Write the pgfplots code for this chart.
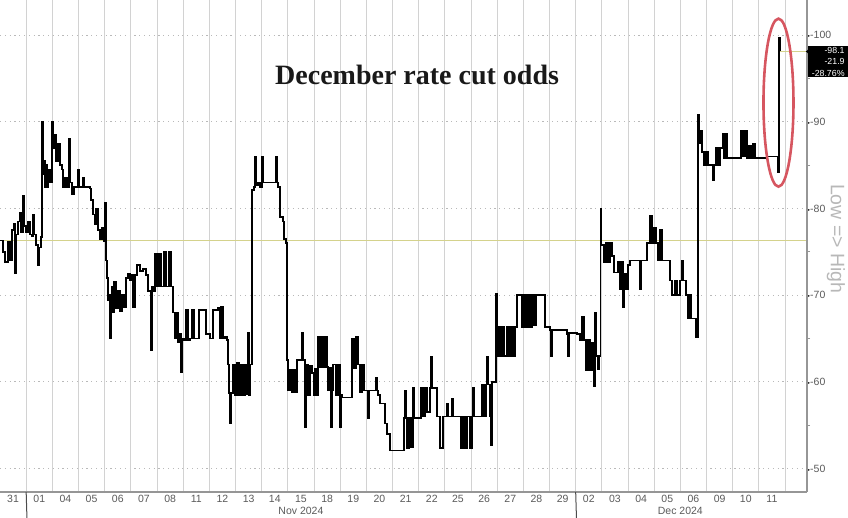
\documentclass[border=0pt]{standalone}
\usepackage{pgfplots}
\pgfplotsset{compat=1.18}
\usepackage{pgfplotstable}
\usepackage{fontspec}
\setmainfont{Liberation Sans}
\newfontfamily\titlefont{Liberation Serif}
\newfontfamily\symfont{DejaVu Sans}

\definecolor{gridgray}{RGB}{210,210,210}
\definecolor{axisgray}{RGB}{150,150,150}
\definecolor{ticktext}{RGB}{90,90,90}
\definecolor{refline}{RGB}{212,210,140}
\definecolor{ovalred}{RGB}{214,86,96}

% t = position along the time axis (one trading day = 26.17 units, day 0 = Oct 31 at 13)
\pgfplotstableread{
t v
0 76.3
3 75
5 73.8
8 76.2
10 74
12 77.5
14 78.2
15 72.5
16 77
18 78.5
20 79.5
21 77.3
23 81.5
24 78
26 77.2
28 78.5
30 77
32 76.8
33 79.3
34 77
36 75.8
38 73.5
39 75.5
41 76.7
42 90
43 84
44 85.5
45 82.5
46 85
47 82.5
48 84.5
50 83
52 90
53 87
54 88.5
56 85.5
58 87.5
60 85
62 84.5
63 82.5
65 83.5
67 82.5
69 88
70 83
72 81.6
74 82.5
78 84.5
79 82.5
83 83.5
84 82.5
88 82.5
90 82.3
91 81
93 79.3
95 78.2
96 80
98 77.5
100 76.5
102 77.8
104 76.2
105 80.6
106 74
107 72
108 69.4
109 70
110 65
111 68.5
112 71
113 68
114 71.5
116 68.5
118 70.5
120 68.2
122 70
124 68.6
126 72
128 72.5
130 71.7
132 72.3
133 68.6
135 72.3
137 73.5
140 72.8
143 73
146 72.3
148 70.5
151 63.7
152 71
154 70.5
155 74.8
157 71
159 74.8
161 71
162 71
164 75
166 71
169 75
171 71
173 68
175 65
176 68
178 64.6
180 65.5
181 61.1
182 65
184 64.8
186 68.3
188 64.8
190 65
192 68.3
194 65
197 65
199 68.3
204 68.3
206 65.5
210 65
213 68.3
218 68.5
220 65
221 68.7
223 65
225 65.2
227 64.8
228 62
229 58.7
230 55.2
231 58.7
233 62
235 58.5
237 62.2
239 58.5
241 62
243 58.5
245 62
247 58.6
248 65.7
249 58.5
250 62
252 82.1
254 82.5
255 86
256 82.7
258 83
260 82.4
262 86
263 83
266 83
272 83
276 86
277 83
278 82.5
280 79
283 78.5
284 76.5
286 76
287 62.5
288 59
290 61.4
292 58.8
294 61.4
296 58.8
297 62.5
300 62.5
302 65.6
303 62.5
305 54.8
306 62
308 58.5
310 61.8
312 61
314 58.4
315 61.5
317 58.5
318 65.2
320 61.7
322 65.2
324 61.7
326 65.2
327 61.7
328 59
330 61.6
331 54.8
332 59
333 62
336 58.5
338 62
340 54.8
341 58.5
342 58.2
352 65
354 61.6
356 65.2
358 62
360 58.8
362 62
364 59
365 59
368 55.8
369 59
376 60.5
377 59
378 58.5
380 57.5
385 55.2
387 54
390 52.1
404 55.8
405 59
406 55.8
407 52.3
409 55.8
411 52.5
413 59.3
414 55.8
420 55.8
421 59.3
423 56
425 59.3
427 56.5
430 59.3
431 62.9
432 59.3
437 56
440 52.4
443 56
447 57.5
448 56
452 58
453 56
460 56
461 52.3
463 56
465 52.3
467 56
470 52.3
472 56
473 59.3
474 56
478 56
482 59.7
484 56
486 59.7
487 62.9
488 59.7
490 56
491 52.7
492 60
496 70.2
497 63
499 66.3
500 63
502 66.3
504 63
507 66.3
509 63
511 66.3
513 62.9
515 66.3
517 70
522 66.3
524 70
526 66.3
528 70
530 66.3
532 70
534 66.5
536 70
545 66.3
550 66
551 63
552 66
567 65.5
568 63
569 65.6
577 65.5
580 64.8
582 67.5
584 64.8
586 61.3
588 64.8
590 61.3
592 64.5
594 59.5
595 68
596 63
598 61.5
599 63
600.5 80
601.5 75.8
604 73.8
606 76
608 73.8
610 76
612 74.5
614 72.6
618 73.9
620 70.7
622 73.9
623 68.6
624 72.5
626 70.7
628 73.5
630 74
639 74
640 70.7
641 74
647 76
650 79.2
652 76
654 77.8
656 76
658 74
660 77.5
662 74
663 74
670 71.7
672 70
675 71.7
677 70
680 71.7
682 74
683 71.7
686 70
688 67.3
690 70
691 67.3
696 65.2
698 90.8
699 87.5
701 89
702 86.5
704 85
706 86.5
708 85
711 85
713 83.3
714 85
716 87
718 85
720 87
723 88.6
724 85.8
726 88.6
727 85.8
740 85.8
741 89
743 86
745 89
747 85.8
749 87.2
751 85.8
753 87.5
755 85.8
762 85.8
767 86
777 86
778 84.2
779 99.7
780 98.1
}\oddsdata

\begin{document}
\begin{tikzpicture}
\begin{axis}[
  scale only axis, width=807bp, height=492bp,
  at={(0bp,26bp)}, anchor=south west,
  xmin=-0.5, xmax=30.34, ymin=47.29, ymax=104.04,
  axis line style={draw=none},
  clip=false,
  font=\fontsize{10.5bp}{12bp}\selectfont,
  /pgf/number format/assume math mode=true,
  tick label style={text=ticktext},
  major tick length=0pt, minor tick length=3bp,
  tick align=outside,
  tick style={axisgray, line width=0.8bp},
  xtick pos=bottom, ytick pos=right,
  xticklabel pos=lower, yticklabel pos=right,
  xtick={0,...,29},
  xticklabels={31,01,04,05,06,07,08,11,12,13,14,15,18,19,20,21,22,25,26,27,28,29,02,03,04,05,06,09,10,11},
  xtick style={draw=none},
  extra x ticks={0.5,1.5,...,29.5},
  extra x tick labels={},
  extra x tick style={grid=major, major grid style={gridgray, line width=0.9bp}, tick style={draw=none}},
  ytick={50,60,...,100},
  minor y tick num=1,
  ymajorgrids,
  y grid style={gray!55, line width=0.8bp, dash pattern=on 1.2bp off 3.6bp},
  yticklabel={{\symfont\fontsize{8bp}{8bp}\selectfont\textcolor{black}{▸}}{-}\pgfmathprintnumber{\tick}},
  yticklabel style={anchor=west, inner sep=0pt, xshift=-1bp},
]
% reference level
\draw[refline, line width=1bp] (axis cs:-0.5,76.3) -- (axis cs:30.34,76.3);
% odds series
\addplot[const plot, black, line width=1.6bp, x filter/.expression={(x-13)/26.17}]
  table[x=t, y=v]{\oddsdata};
% last value marker line
\draw[refline, line width=1bp] (axis cs:29.31,98.1) -- (axis cs:30.34,98.1);

% frame: bottom and right only
\draw[axisgray, line width=1.6bp] (axis cs:-0.5,47.29) -- (axis cs:30.34,47.29);
\draw[axisgray, line width=1.6bp] (axis cs:30.34,47.29) -- (axis cs:30.34,104.04);

% title
\node[text=black!90, font=\titlefont\bfseries\fontsize{28bp}{30bp}\selectfont]
  at (axis cs:15.44,95.4) {December rate cut odds};

% red oval around the final jump
\draw[ovalred, line width=2.6bp] (axis cs:29.25,92.2) ellipse [x radius=15bp, y radius=84bp];

% value tag on the right
\fill[black] (axis cs:30.30,98.1) -- (axis cs:30.50,98.65) -- (axis cs:30.50,97.55) -- cycle;
\node[fill=black, text=white, anchor=north west, inner sep=1.2bp, minimum width=40bp,
      align=right, font=\fontsize{8.8bp}{11.5bp}\selectfont]
  at ([xshift=1bp, yshift=6bp]axis cs:30.34,98.1) {-98.1\\-21.9\\-28.76\%};

% right axis caption
\node[rotate=-90, text=black!28, font=\fontsize{19.5bp}{20bp}\selectfont]
  at ([xshift=29bp]axis cs:30.34,76.5) {Low => High};

% month separators and labels
\draw[black!70, line width=1bp] (axis cs:0.5,47.29) -- ++(0,-26bp);
\draw[black!70, line width=1bp] (axis cs:21.5,47.29) -- ++(0,-26bp);
\node[anchor=north, inner sep=0pt, text=ticktext, yshift=-15bp] at (axis cs:11,47.29) {Nov 2024};
\node[anchor=north, inner sep=0pt, text=ticktext, yshift=-15bp] at (axis cs:25.5,47.29) {Dec 2024};
\end{axis}
\pgfresetboundingbox
\path (0,0) rectangle (848bp,518bp);
\end{tikzpicture}
\end{document}
